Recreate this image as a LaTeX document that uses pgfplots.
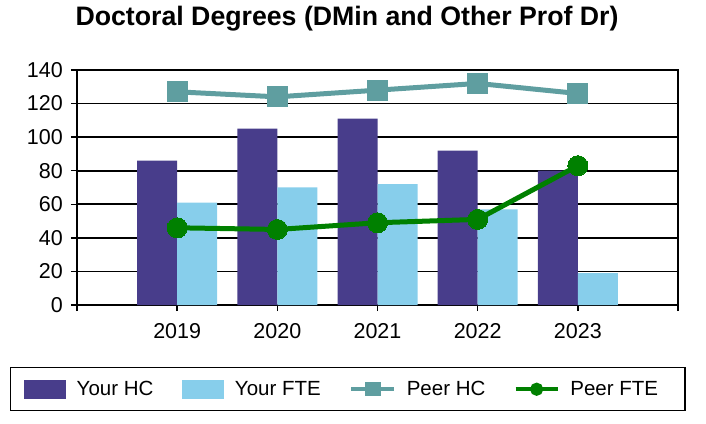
\documentclass[border=0pt]{standalone}
\usepackage{fontspec}
\setmainfont{Liberation Sans}
\usepackage{pgfplots}
\pgfplotsset{compat=1.18}

\definecolor{hc}{HTML}{483D8B}
\definecolor{fte}{HTML}{87CEEB}
\definecolor{peerhc}{HTML}{5F9EA0}
\definecolor{peerfte}{HTML}{008000}

\begin{document}
\begin{tikzpicture}
\path[use as bounding box] (0pt,0pt) rectangle (706pt,423pt);
\begin{axis}[
  at={(77pt,118pt)}, anchor=south west,
  scale only axis, width=601pt, height=235pt,
  xmin=0, xmax=6, ymin=0, ymax=140,
  xtick={0,...,6}, xticklabels={,2019,2020,2021,2022,2023,},
  ytick={0,20,...,140},
  xtick pos=bottom, ytick pos=left,
  tick align=outside, major tick length=6pt,
  axis line style={line width=1.6pt},
  tick style={line width=1.4pt, black},
  ymajorgrids, grid style={line width=1.6pt, black},
  /pgf/number format/assume math mode=true,
  tick label style={font=\fontsize{21.5}{24}\selectfont, inner sep=0pt},
  yticklabel style={anchor=east, xshift=-8pt},
  xticklabel style={anchor=north, yshift=-12pt},
  title={\textbf{Doctoral Degrees (DMin and Other Prof Dr)}},
  title style={font=\fontsize{26.7}{30}\selectfont, at={(axis description cs:0.4493,1)},
    anchor=base, yshift=38pt, inner sep=0pt},
  legend columns=4,
  legend style={at={(axis description cs:-0.1115,-0.2638)}, anchor=north west,
    draw=black, line width=1.5pt, inner xsep=13pt, inner ysep=12pt,
    nodes={inner sep=0pt, font=\fontsize{20.5}{24}\selectfont},
    /tikz/every odd column/.append style={column sep=11pt},
    /tikz/every even column/.append style={column sep=28.5pt}},
  legend cell align=left,
]
\addplot[ybar, bar width=40pt, bar shift=-20pt, fill=hc, draw=none,
  legend image code/.code={\fill[hc] (0pt,-9.5pt) rectangle (42pt,9.5pt);}]
  coordinates {(1,86) (2,105) (3,111) (4,92) (5,80)};
\addplot[ybar, bar width=40pt, bar shift=20pt, fill=fte, draw=none,
  legend image code/.code={\fill[fte] (0pt,-9.5pt) rectangle (42pt,9.5pt);}]
  coordinates {(1,61) (2,70) (3,72) (4,57) (5,19)};
\addplot[peerhc, line width=5pt, mark=square*, mark size=10pt,
  mark options={line width=0pt, fill=peerhc},
  legend image code/.code={\draw[peerhc, line width=3.5pt] (0pt,0pt) -- (43pt,0pt);
    \fill[peerhc] (16pt,-4.5pt) rectangle (27pt,4.5pt);}]
  coordinates {(1,127) (2,124) (3,128) (4,132) (5,126)};
\addplot[peerfte, line width=5pt, mark=*, mark size=10pt,
  mark options={line width=0pt, fill=peerfte},
  legend image code/.code={\draw[peerfte, line width=3.5pt] (0pt,0pt) -- (42pt,0pt);
    \fill[peerfte] (21pt,0pt) circle (4pt);}]
  coordinates {(1,46) (2,45) (3,49) (4,51) (5,83)};
\legend{Your HC, Your FTE, Peer HC, Peer FTE\hspace{14pt}\mbox{}}
\end{axis}
\end{tikzpicture}
\end{document}
